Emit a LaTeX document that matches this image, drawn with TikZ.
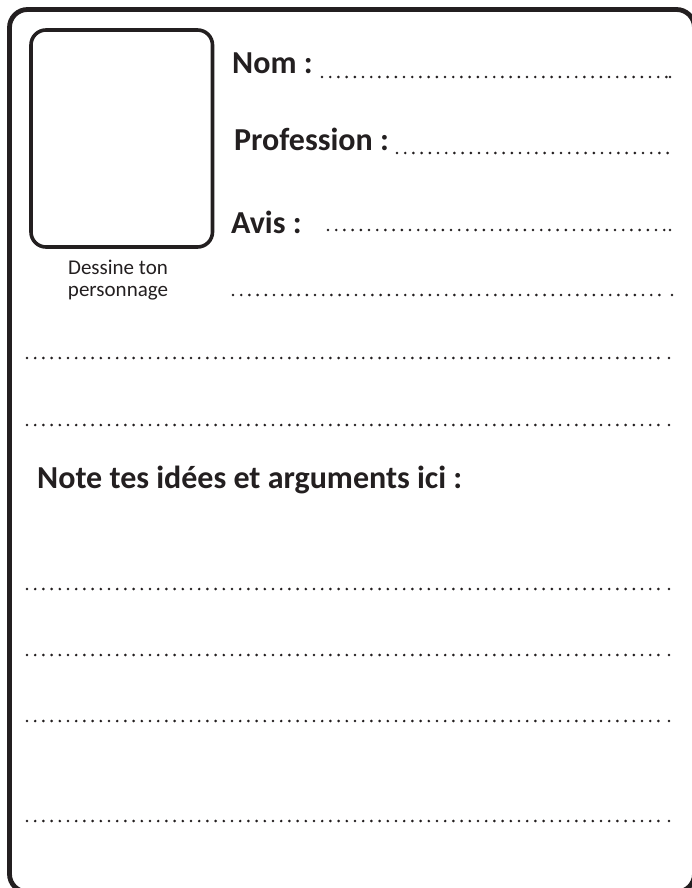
\documentclass[tikz,border=0pt]{standalone}
\usepackage{fontspec}
\setmainfont{Carlito}
\usepackage{tikz}
\definecolor{inkblack}{RGB}{35, 31, 32}

\tikzset{leader/.style = {line width = 2.9pt, line cap = round, dash pattern = on 0pt off 8.2pt, color = inkblack}}

\begin{document}
\begin{tikzpicture}[x = 1pt, y = -1pt]
			\useasboundingbox (0,0) rectangle (692,888);
			% cadre et case du dessin
			\draw[line width = 4.8pt, color = inkblack, rounded corners = 18pt] (9.5,9.5) rectangle (694.5,892);
			\draw[line width = 3.6pt, color = inkblack, rounded corners = 15pt] (31,30) rectangle (212.5,247);
			\node (dessine) at (118,274) [anchor = base, inner sep = 0pt, font = \fontsize{21}{24}\selectfont, text = inkblack] {Dessine ton};
			\node (perso) at (118,296) [anchor = base, inner sep = 0pt, font = \fontsize{21}{24}\selectfont, text = inkblack] {personnage};
			% champs
			\node (nom) at (232,74) [anchor = base west, inner sep = 0pt, font = \bfseries\fontsize{32}{34}\selectfont, text = inkblack] {Nom :};
			\node (prof) at (234,150) [anchor = base west, inner sep = 0pt, font = \bfseries\fontsize{32}{34}\selectfont, text = inkblack] {Profession :};
			\node (avis) at (231,233) [anchor = base west, inner sep = 0pt, font = \bfseries\fontsize{32}{34}\selectfont, text = inkblack] {Avis :};
			\node (note) at (37,488) [anchor = base west, inner sep = 0pt, font = \bfseries\fontsize{32}{34}\selectfont, text = inkblack] {Note tes idées et arguments ici :};
			% lignes
			\draw[leader] (322,77) -- (667,77);
			\draw[leader] (670,77) -- +(0.01,0);
			\draw[leader] (397,153) -- (670,153);
			\draw[leader] (328,230) -- (667,230);
			\draw[leader] (670,230) -- +(0.01,0);
			\draw[leader] (233,295) -- (661,295);
			\draw[leader] (672,295) -- +(0.01,0);
			\draw[leader] (27,358) -- (659,358);
			\draw[leader] (669,358) -- +(0.01,0);
			\draw[leader] (27,425) -- (659,425);
			\draw[leader] (669,425) -- +(0.01,0);
			\draw[leader] (27,589) -- (659,589);
			\draw[leader] (669,589) -- +(0.01,0);
			\draw[leader] (27,655) -- (659,655);
			\draw[leader] (669,655) -- +(0.01,0);
			\draw[leader] (27,721) -- (659,721);
			\draw[leader] (669,721) -- +(0.01,0);
			\draw[leader] (27,821) -- (659,821);
			\draw[leader] (669,821) -- +(0.01,0);
			\end{tikzpicture}
\end{document}
